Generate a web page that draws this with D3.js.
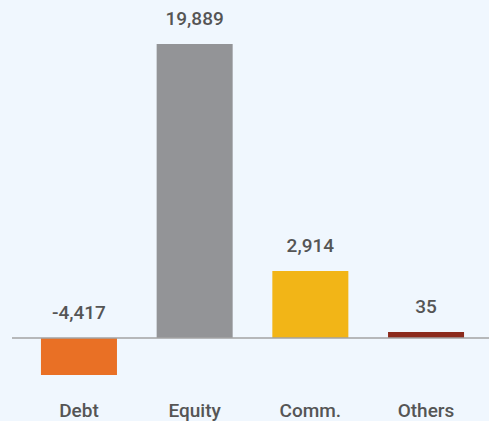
<!DOCTYPE html>
<html>
<head>
<meta charset="utf-8">
<script src="https://cdn.jsdelivr.net/npm/d3@7/dist/d3.min.js"></script>
<style>
  html, body { margin: 0; padding: 0; background: #f0f7fe; }
  svg { display: block; }
</style>
</head>
<body>
<svg id="chart" width="489" height="421"></svg>
<script>
const categories = ["Debt", "Equity", "Comm.", "Others"];
const values = [-4417, 19889, 2914, 35];
const colors = ["#e97025", "#939497", "#f2b517", "#8b2a1c"];

const W = 489, H = 421;
const svg = d3.select("#chart");
svg.append("rect").attr("width", W).attr("height", H).attr("fill", "#f0f7fe");

const x = d3.scaleBand().domain(categories).range([14, 491]).paddingInner(0.343).paddingOuter(0.233);

// piecewise (polylinear) scale reproducing the reference's stylised bar heights
const sorted = values.slice().sort((a, b) => a - b);
const yDomain = [sorted[0], 0, sorted[1], sorted[2], sorted[3]];
const y = d3.scaleLinear().domain(yDomain).range([375, 338, 332, 271, 44]);

const fmt = v => d3.format(",")(v).replace("\u2212", "-");

svg.selectAll("rect.bar").data(values).join("rect")
  .attr("class", "bar")
  .attr("x", (d, i) => x(categories[i]))
  .attr("width", x.bandwidth())
  .attr("y", d => Math.min(y(d), y(0)))
  .attr("height", d => Math.abs(y(d) - y(0)))
  .attr("fill", (d, i) => colors[i]);

// zero line
svg.append("line")
  .attr("x1", 12).attr("x2", W)
  .attr("y1", y(0)).attr("y2", y(0))
  .attr("stroke", "#a3a3a3").attr("stroke-width", 1.5);

const font = "Roboto, 'Open Sans', sans-serif";

svg.selectAll("text.val").data(values).join("text")
  .attr("class", "val")
  .attr("x", (d, i) => x(categories[i]) + x.bandwidth() / 2)
  .attr("y", d => Math.min(y(d), y(0)) - 19)
  .attr("text-anchor", "middle")
  .attr("font-family", font)
  .attr("font-weight", 500)
  .attr("font-size", 19)
  .attr("fill", "#555")
  .text(d => fmt(d));

svg.selectAll("text.cat").data(categories).join("text")
  .attr("class", "cat")
  .attr("x", d => x(d) + x.bandwidth() / 2)
  .attr("y", 417)
  .attr("text-anchor", "middle")
  .attr("font-family", font)
  .attr("font-weight", 500)
  .attr("font-size", 19)
  .attr("fill", "#555")
  .text(d => d);
</script>
</body>
</html>
